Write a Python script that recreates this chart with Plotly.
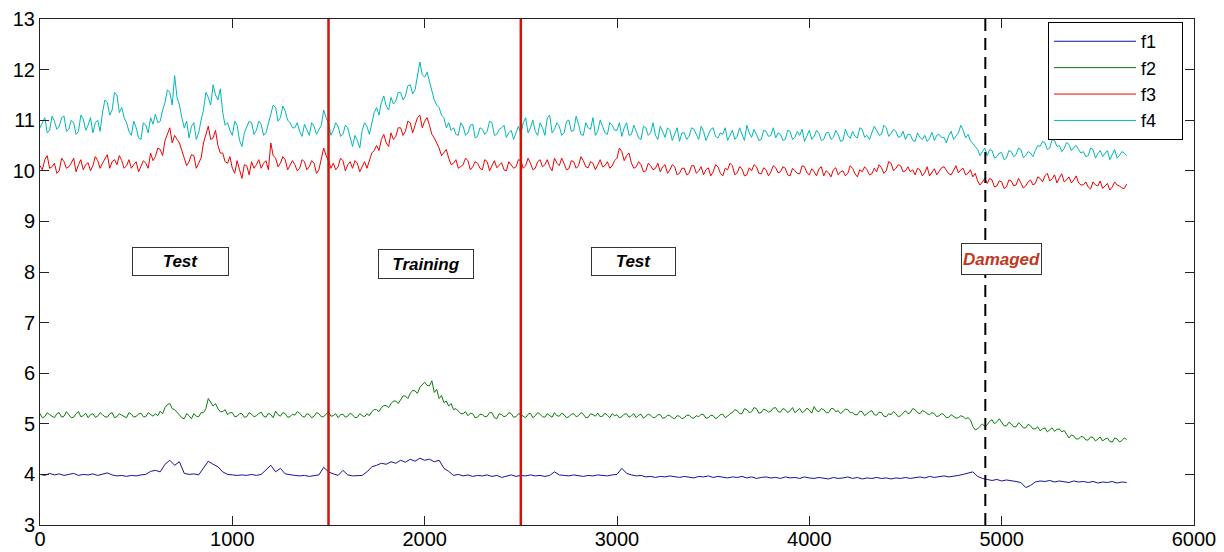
import plotly.graph_objects as go

STEP = 25  # sample spacing along x; "_b" arrays sit half-way between samples

f1 = [4.00, 3.98, 4.02, 3.99, 4.01, 3.98, 4.00, 4.02, 3.98, 4.00, 3.99, 4.01, 3.98, 4.00, 4.03, 3.99,
      3.97, 3.98, 3.96, 3.98, 3.97, 3.99, 4.00,
      4.06, 4.08, 4.05,
      4.20, 4.28, 4.18, 4.25,
      4.02, 4.00, 4.01, 3.99,
      4.12, 4.26, 4.20, 4.15, 4.05,
      4.00, 3.99, 3.98, 3.99, 3.98, 4.00, 3.98, 4.00,
      4.10, 4.18, 4.05, 4.12,
      4.01, 3.99, 3.98, 3.97, 3.98, 3.96, 3.98, 3.99,
      4.14, 4.05,
      4.01, 3.98, 4.08, 3.99, 3.97, 3.98,
      3.98, 4.05, 4.15,
      4.18, 4.22, 4.20, 4.25, 4.22, 4.28, 4.24, 4.30, 4.26, 4.32, 4.28, 4.30,
      4.25, 4.28, 4.12, 4.06,
      3.98, 4.00, 3.97, 3.99, 3.96, 3.98, 3.97, 3.99, 3.96, 3.98, 3.94, 3.97, 3.99, 3.96, 3.98, 3.97,
      3.99, 3.97, 3.98, 3.96, 3.98,
      4.05, 3.99,
      3.98, 3.97, 3.99, 3.98, 3.96, 3.98, 3.97, 3.99, 3.98, 3.97, 3.99, 4.00,
      4.12, 4.02,
      3.99, 3.97, 3.98, 3.95, 3.96, 3.94, 3.96, 3.95, 3.97, 3.95,
      3.94, 3.96, 3.95, 3.93, 3.96, 3.95, 3.97, 3.94, 3.96, 3.95,
      3.93, 3.95, 3.94, 3.96, 3.93, 3.95, 3.92, 3.94, 3.95, 3.93,
      3.94, 3.92, 3.95, 3.93, 3.94, 3.92, 3.95, 3.93, 3.92, 3.94,
      3.93, 3.91, 3.94, 3.92, 3.93, 3.95, 3.92, 3.94, 3.91, 3.93,
      3.92, 3.94, 3.92, 3.93, 3.91, 3.93, 3.92, 3.94, 3.92, 3.93,
      3.95, 3.93, 3.96, 3.94, 3.95, 3.97, 3.95,
      3.96, 3.98, 4.00, 4.03,
      4.05, 3.96, 3.92,
      3.90, 3.88, 3.90, 3.87, 3.89, 3.88, 3.86,
      3.84, 3.74, 3.78,
      3.85, 3.87, 3.86, 3.88, 3.85, 3.87, 3.86, 3.84, 3.87, 3.85,
      3.86, 3.84, 3.86, 3.83, 3.85, 3.84, 3.86, 3.83, 3.85, 3.84]

f2 = [5.20, 5.14, 5.18, 5.12, 5.22, 5.15, 5.19, 5.13, 5.24, 5.16, 5.12, 5.20, 5.15, 5.18, 5.13, 5.22,
      5.14, 5.17, 5.12, 5.19, 5.15, 5.21, 5.14, 5.18, 5.20,
      5.25, 5.32, 5.40, 5.28,
      5.18, 5.10, 5.16, 5.20, 5.14, 5.22,
      5.50, 5.35, 5.30, 5.24,
      5.18, 5.22, 5.15, 5.20, 5.14, 5.19, 5.16, 5.23, 5.13, 5.18, 5.25, 5.15, 5.20, 5.14, 5.17,
      5.21, 5.13, 5.18, 5.15, 5.20, 5.14, 5.24, 5.16, 5.12, 5.19, 5.15, 5.18, 5.13, 5.16,
      5.20, 5.24, 5.28, 5.32, 5.36, 5.40, 5.45, 5.48, 5.55, 5.60, 5.65, 5.72, 5.82, 5.75,
      5.62, 5.50, 5.42, 5.35, 5.28, 5.24, 5.20,
      5.16, 5.20, 5.13, 5.18, 5.15, 5.22, 5.10, 5.18, 5.16, 5.20, 5.14, 5.18, 5.12, 5.21, 5.16,
      5.19, 5.13, 5.17, 5.22, 5.15, 5.18, 5.14, 5.20, 5.16, 5.19, 5.13, 5.18, 5.21, 5.15, 5.17, 5.20,
      5.18, 5.14, 5.20, 5.16, 5.12, 5.19, 5.15, 5.17, 5.13, 5.18, 5.12, 5.16, 5.10, 5.15, 5.12,
      5.17, 5.11, 5.14, 5.18, 5.12, 5.16, 5.13, 5.19, 5.15,
      5.22, 5.26, 5.20, 5.28, 5.24, 5.30, 5.22, 5.27, 5.25, 5.32, 5.23, 5.28, 5.26, 5.22, 5.30,
      5.25, 5.27, 5.34, 5.24, 5.28, 5.22, 5.30, 5.26, 5.24, 5.28,
      5.22, 5.18, 5.24, 5.20, 5.26, 5.17, 5.22, 5.14, 5.18, 5.20, 5.16, 5.26, 5.22, 5.28, 5.20,
      5.24, 5.18,
      5.20, 5.16, 5.18, 5.13, 5.15, 5.12, 5.14, 5.12,
      4.95, 4.90, 5.00,
      4.98, 5.08, 5.04,
      5.02, 4.96, 5.00, 4.94, 4.98, 4.92, 4.96,
      4.90, 4.86, 4.92, 4.88, 4.85, 4.90, 4.87,
      4.72, 4.76, 4.70, 4.74, 4.68, 4.73, 4.70, 4.66, 4.72, 4.64, 4.70, 4.67, 4.69]

f2_b = [5.12, 5.22, 5.15, 5.20, 5.13, 5.24, 5.12, 5.20, 5.14, 5.21, 5.18, 5.13, 5.22, 5.14, 5.20,
        5.12, 5.20, 5.14, 5.22, 5.13, 5.19, 5.14, 5.22, 5.15, 5.16,
        5.20, 5.38, 5.30, 5.22,
        5.12, 5.20, 5.10, 5.15, 5.22, 5.30,
        5.42, 5.40, 5.24, 5.28,
        5.22, 5.14, 5.20, 5.13, 5.22, 5.14, 5.20, 5.15, 5.21, 5.12, 5.18, 5.22, 5.13, 5.19, 5.24,
        5.15, 5.20, 5.12, 5.22, 5.14, 5.19, 5.15, 5.20, 5.18, 5.13, 5.21, 5.12, 5.20, 5.14,
        5.16, 5.28, 5.24, 5.36, 5.32, 5.45, 5.40, 5.55, 5.50, 5.66, 5.60, 5.78, 5.76, 5.85,
        5.68, 5.56, 5.45, 5.40, 5.30, 5.20, 5.24,
        5.21, 5.12, 5.19, 5.14, 5.22, 5.12, 5.20, 5.14, 5.22, 5.13, 5.20, 5.15, 5.19, 5.12, 5.22,
        5.14, 5.20, 5.13, 5.16, 5.21, 5.12, 5.19, 5.14, 5.22, 5.12, 5.20, 5.15, 5.14, 5.21, 5.12, 5.16,
        5.12, 5.19, 5.13, 5.20, 5.17, 5.11, 5.19, 5.12, 5.18, 5.11, 5.17, 5.12, 5.16, 5.10, 5.17,
        5.12, 5.16, 5.19, 5.11, 5.17, 5.10, 5.18, 5.12, 5.20,
        5.28, 5.20, 5.30, 5.22, 5.32, 5.21, 5.29, 5.23, 5.31, 5.24, 5.30, 5.22, 5.32, 5.26, 5.22,
        5.31, 5.21, 5.26, 5.30, 5.22, 5.30, 5.24, 5.20, 5.29, 5.22,
        5.18, 5.25, 5.16, 5.24, 5.18, 5.23, 5.15, 5.20, 5.24, 5.14, 5.22, 5.20, 5.30, 5.22, 5.26,
        5.20, 5.22,
        5.14, 5.20, 5.12, 5.18, 5.11, 5.16, 5.10, 5.08,
        4.88, 4.96, 4.94,
        5.05, 5.00, 5.10,
        4.96, 5.03, 4.94, 5.02, 4.92, 4.99, 4.90,
        4.94, 4.90, 4.84, 4.92, 4.89, 4.84, 4.80,
        4.78, 4.70, 4.75, 4.68, 4.74, 4.66, 4.74, 4.70, 4.65, 4.72, 4.64, 4.72]

f3 = [10.10, 10.22, 10.05, 10.15, 10.00, 10.18, 10.08, 10.25, 10.12, 10.02, 10.16, 10.10, 10.20,
      10.15, 10.32, 10.18, 10.12, 10.20,
      10.10, 10.05, 10.18, 10.08, 10.15,
      10.35, 10.28, 10.42,
      10.60, 10.85, 10.70, 10.55,
      10.25, 10.18, 10.30, 10.15,
      10.55, 10.88, 10.65, 10.50, 10.35,
      10.15, 10.05, 10.20, 9.85, 10.10, 10.18,
      10.12, 10.05, 10.20,
      10.55, 10.25, 10.15, 10.22, 10.10,
      10.12, 10.05, 10.18, 10.08, 10.15, 10.02,
      10.45, 10.20,
      10.15, 10.08, 10.20, 10.12,
      10.05, 10.15,
      10.10, 10.05, 10.35,
      10.50, 10.62, 10.55, 10.75, 10.68,
      10.85, 10.78, 10.95, 10.88,
      11.10, 10.98, 10.90,
      10.65, 10.45, 10.35, 10.25,
      10.15, 10.05, 10.12, 10.20, 10.08, 10.15, 10.02, 10.18, 10.10, 10.06, 10.16, 10.00, 10.12, 10.08,
      10.20, 10.10, 10.15, 10.05, 10.22, 10.12, 10.08, 10.25, 10.10, 10.14,
      10.04, 10.18, 10.10, 10.20, 10.06, 10.15, 10.12, 10.08, 10.18, 10.10,
      10.25, 10.38, 10.30, 10.15, 10.08, 10.12, 10.00, 10.10, 10.05, 9.98, 10.12, 10.02, 10.08, 9.95,
      10.05, 9.95, 10.10, 10.00, 9.92, 10.06, 9.98, 10.08, 9.90, 10.02,
      10.10, 9.96, 10.04, 9.92, 10.00, 10.08, 9.94, 10.02, 9.98, 10.06,
      9.98, 10.05, 9.90, 10.00, 9.94, 10.08, 9.92, 9.98, 10.04, 9.90,
      9.96, 10.02, 9.92, 10.00, 9.95, 10.05, 9.88, 9.98, 10.02, 9.94,
      9.98, 10.06, 10.00, 10.15, 10.05,
      10.10, 10.00, 9.98, 9.92, 10.02, 9.96, 9.90, 10.04, 9.98, 10.08, 9.94, 10.00, 9.96,
      10.05, 9.95,
      9.88, 9.80, 9.78,
      9.75, 9.82, 9.70, 9.78, 9.68, 9.80, 9.72, 9.76, 9.70, 9.82, 9.75,
      9.85, 9.90, 9.80, 9.92, 9.86, 9.78, 9.88, 9.82, 9.76,
      9.72, 9.68, 9.78, 9.70, 9.65, 9.75, 9.68, 9.72, 9.66, 9.74]

f3_b = [10.02, 10.30, 10.08, 9.95, 10.25, 10.05, 10.15, 9.98, 10.22, 10.12, 10.00, 10.28, 10.05,
        10.25, 10.05, 10.22, 10.30, 10.05,
        10.22, 10.12, 9.98, 10.20, 10.05,
        10.20, 10.45, 10.30,
        10.72, 10.55, 10.62, 10.40,
        10.10, 10.32, 10.05, 10.25,
        10.70, 10.62, 10.80, 10.35, 10.18,
        10.28, 9.95, 10.02, 10.12, 9.92, 10.05,
        10.22, 10.15, 10.02,
        10.30, 10.08, 10.28, 10.02, 10.20,
        10.00, 10.22, 10.02, 10.20, 9.95, 10.22,
        10.30, 10.05,
        10.02, 10.25, 10.00, 10.18,
        10.20, 9.98,
        10.18, 10.22, 10.40,
        10.40, 10.72, 10.48, 10.62, 10.85,
        10.70, 10.98, 10.75, 11.05,
        10.85, 11.05, 10.72,
        10.55, 10.30, 10.42, 10.12,
        10.22, 10.08, 10.25, 10.02, 10.18, 10.05, 10.22, 10.00, 10.20, 10.12, 10.02, 10.18, 10.05, 10.22,
        10.05, 10.25, 10.02, 10.18, 10.08, 10.22, 10.00, 10.15, 10.25, 10.02,
        10.20, 10.05, 10.28, 10.08, 10.18, 10.02, 10.22, 10.10, 10.05, 10.20,
        10.45, 10.20, 10.35, 10.05, 10.18, 9.98, 10.15, 10.02, 10.15, 10.08, 9.95, 10.12, 9.92, 10.05,
        9.92, 10.10, 9.95, 10.08, 10.02, 9.90, 10.12, 9.95, 10.05, 10.15,
        9.92, 10.08, 9.90, 10.06, 10.12, 9.95, 10.06, 9.90, 10.10, 9.96,
        10.08, 9.92, 10.05, 9.95, 10.10, 9.96, 10.04, 9.90, 10.08, 10.00,
        9.88, 10.06, 9.98, 9.90, 10.10, 9.94, 10.02, 10.08, 9.92, 10.05,
        10.12, 9.95, 10.18, 10.00, 10.12, 9.98, 10.08, 10.02, 10.05, 9.90,
        10.08, 9.96, 9.92, 10.06, 10.02, 9.92, 10.10, 10.02,
        9.92, 10.02,
        9.95, 9.72, 9.85,
        9.85, 9.68, 9.80, 9.65, 9.82, 9.70, 9.85, 9.66, 9.78, 9.72, 9.88,
        9.78, 9.95, 9.84, 9.76, 9.94, 9.82, 9.76, 9.90, 9.72,
        9.78, 9.64, 9.72, 9.80, 9.70, 9.62, 9.78, 9.70, 9.65]

f4 = [10.85, 11.05, 10.80, 10.98, 10.88, 11.08, 10.82, 10.95, 10.78, 11.02, 10.90, 10.75, 11.00,
      11.15, 11.35, 11.20, 11.50, 11.25,
      10.95, 10.70, 10.85, 10.62, 10.90,
      11.05, 11.12, 10.98,
      11.35, 11.55, 11.88, 11.30,
      10.85, 10.65, 10.95, 10.75,
      11.20, 11.45, 11.70, 11.40, 11.15,
      10.95, 10.70, 10.90, 10.48, 10.85, 10.95,
      10.80, 10.92, 10.75,
      11.10, 11.25, 11.05, 11.18, 10.95,
      10.85, 10.78, 10.92, 10.70, 10.88, 10.80,
      11.20, 10.95,
      10.80, 10.88, 10.72, 10.85,
      10.48, 10.60,
      10.80, 10.88, 10.95,
      11.25, 11.35, 11.28, 11.45, 11.38,
      11.55, 11.48, 11.70, 11.60,
      12.15, 11.85, 11.75,
      11.40, 11.25, 11.05, 10.95,
      10.85, 10.70, 10.88, 10.75, 10.92, 10.68, 10.82, 10.78, 10.95, 10.72, 10.85, 10.66, 10.80, 10.75,
      10.72, 11.05, 10.85, 10.78, 10.95, 10.70, 11.10, 10.82, 10.88, 10.75,
      11.00, 10.80, 10.92, 10.70, 10.85, 11.05, 10.78, 10.88, 10.72, 10.90,
      10.80, 10.68, 10.95, 10.72, 10.78, 10.62, 10.85, 10.75, 10.70, 10.88, 10.66, 10.80, 10.72, 10.58,
      10.75, 10.68, 10.82, 10.62, 10.78, 10.70, 10.85, 10.65, 10.72, 10.60,
      10.80, 10.68, 10.74, 10.90, 10.66, 10.72, 10.62, 10.78, 10.70, 10.65,
      10.72, 10.62, 10.78, 10.66, 10.70, 10.58, 10.80, 10.68, 10.74, 10.62,
      10.76, 10.66, 10.72, 10.60, 10.70, 10.78, 10.65, 10.82, 10.70, 10.76,
      10.80, 10.72, 10.85, 10.74, 10.78,
      10.68, 10.62, 10.72, 10.58, 10.66, 10.70, 10.64, 10.60, 10.72, 10.66, 10.70, 10.62, 10.75,
      10.80, 10.72,
      10.55, 10.42, 10.38,
      10.30, 10.40, 10.28, 10.36, 10.25, 10.38, 10.32, 10.42, 10.30, 10.35, 10.40,
      10.48, 10.55, 10.45, 10.60, 10.50, 10.44, 10.52, 10.46, 10.42,
      10.38, 10.30, 10.42, 10.34, 10.28, 10.40, 10.32, 10.25, 10.38, 10.30]

f4_b = [10.95, 10.75, 11.08, 10.82, 11.05, 10.78, 11.00, 10.72, 11.10, 10.80, 11.05, 10.95, 10.78,
        11.40, 11.10, 11.55, 11.15, 11.05,
        10.78, 10.98, 10.65, 10.95, 10.75,
        10.92, 10.95, 11.20,
        11.60, 11.30, 11.45, 11.05,
        10.98, 10.88, 10.62, 11.00,
        11.55, 11.30, 11.50, 11.62, 10.90,
        10.80, 10.98, 10.60, 10.75, 10.98, 10.72,
        10.98, 10.70, 10.95,
        11.30, 10.98, 11.28, 11.00, 10.85,
        10.95, 10.68, 10.80, 10.95, 10.72, 10.90,
        11.05, 10.70,
        10.95, 10.68, 10.90, 10.65,
        10.70, 10.45,
        10.95, 10.72, 11.15,
        11.10, 11.48, 11.20, 11.32, 11.55,
        11.40, 11.68, 11.52, 11.85,
        11.90, 11.95, 11.55,
        11.30, 11.10, 10.85, 10.80,
        10.72, 10.95, 10.70, 10.90, 10.65, 10.85, 10.72, 10.98, 10.70, 10.82, 10.90, 10.75, 10.62, 10.88,
        10.95, 10.75, 11.00, 10.70, 10.85, 11.05, 10.75, 10.95, 10.70, 10.98,
        10.78, 11.08, 10.72, 10.95, 10.82, 10.70, 11.00, 10.75, 10.95, 10.80,
        10.95, 10.85, 10.70, 10.90, 10.65, 10.88, 10.70, 10.95, 10.62, 10.78, 10.85, 10.60, 10.85, 10.75,
        10.62, 10.85, 10.70, 10.88, 10.60, 10.82, 10.68, 10.75, 10.85, 10.72,
        10.62, 10.85, 10.60, 10.75, 10.82, 10.60, 10.80, 10.68, 10.85, 10.75,
        10.60, 10.80, 10.62, 10.78, 10.82, 10.70, 10.62, 10.80, 10.60, 10.75,
        10.62, 10.80, 10.58, 10.82, 10.64, 10.68, 10.85, 10.66, 10.62, 10.88,
        10.70, 10.90, 10.68, 10.82, 10.66, 10.78, 10.72, 10.60, 10.75, 10.62,
        10.58, 10.76, 10.70, 10.66, 10.55, 10.78, 10.68, 10.90,
        10.65, 10.60,
        10.48, 10.30, 10.45,
        10.42, 10.25, 10.35, 10.22, 10.40, 10.28, 10.45, 10.26, 10.38, 10.28, 10.50,
        10.58, 10.42, 10.62, 10.48, 10.38, 10.56, 10.40, 10.50, 10.35,
        10.28, 10.45, 10.25, 10.40, 10.35, 10.22, 10.42, 10.30, 10.35]

series_names = ["f1", "f2", "f3", "f4"]
series_colors = ["#14149a", "#0a7d0a", "#f00000", "#00b8b8"]

phase_bounds = [1500, 2500]
damage_start = 4915
region_labels = ["Test", "Training", "Test", "Damaged"]
region_label_x = [728, 2007, 3084, 5000]
region_label_y = [8.2, 8.16, 8.2, 8.26]
region_label_colors = ["#000000", "#000000", "#000000", "#c0391e"]
region_box_w = [93, 92, 81, 77]
region_box_h = [25, 26, 25, 28]

x_ticks = [0, 1000, 2000, 3000, 4000, 5000, 6000]
y_ticks = list(range(3, 14))

FONT = "Liberation Sans, Arial, Helvetica, sans-serif"


def merged(main, between):
    """Interleave samples read at x = k*STEP with those read half-way between."""
    xs, ys = [], []
    for i, v in enumerate(main):
        xs.append(i * STEP)
        ys.append(v)
        if between is not None and i < len(between):
            xs.append(i * STEP + STEP / 2)
            ys.append(between[i])
    return xs, ys


fig = go.Figure()
for name, color, vals, mids in zip(series_names, series_colors,
                                   [f1, f2, f3, f4], [None, f2_b, f3_b, f4_b]):
    xs, ys = merged(vals, mids)
    fig.add_trace(go.Scatter(x=xs, y=ys, mode="lines",
                             name=name + "\u00a0\u00a0\u00a0\u00a0",
                             line=dict(color=color, width=1)))

for xb in phase_bounds:
    fig.add_shape(type="line", x0=xb, x1=xb, y0=3, y1=13, xref="x", yref="y",
                  line=dict(color="#d41010", width=2.5))
fig.add_shape(type="line", x0=damage_start, x1=damage_start, y0=3, y1=13, xref="x", yref="y",
              line=dict(color="#000000", width=2, dash="12px,7px"))

for t, xv, yv, c, w, h in zip(region_labels, region_label_x, region_label_y,
                              region_label_colors, region_box_w, region_box_h):
    fig.add_annotation(x=xv, y=yv, xref="x", yref="y", text=t, showarrow=False,
                       font=dict(family=FONT, size=17, color=c, weight="bold", style="italic"),
                       bgcolor="white", bordercolor="#333333", borderwidth=1, borderpad=1,
                       width=w, height=h, align="center", valign="middle")

axis_common = dict(showline=True, linecolor="#222222", linewidth=1, mirror="ticks",
                   ticks="inside", ticklen=9, tickwidth=1, tickcolor="#222222",
                   showgrid=False, zeroline=False, automargin=False,
                   tickfont=dict(family=FONT, size=20, color="black"))

fig.update_layout(
    width=1224, height=552,
    margin=dict(l=40, r=30, t=19, b=27, pad=0),
    paper_bgcolor="white", plot_bgcolor="white",
    xaxis=dict(range=[0, 6000], tickvals=x_ticks, ticklabelstandoff=-4, **axis_common),
    yaxis=dict(range=[3, 13], tickvals=y_ticks, **axis_common),
    legend=dict(x=0.8735, y=0.994, xanchor="left", yanchor="top",
                bgcolor="white", bordercolor="black", borderwidth=1,
                font=dict(family=FONT, size=18, color="black"),
                itemwidth=82, tracegroupgap=0),
    showlegend=True,
)

fig.write_html("out.html")
